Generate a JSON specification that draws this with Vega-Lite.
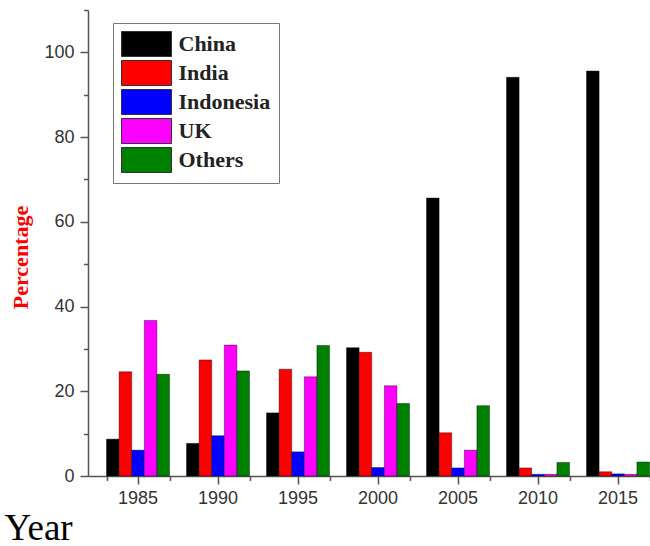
{
  "$schema": "https://vega.github.io/schema/vega-lite/v6.json",
  "width": 562,
  "height": 466,
  "autosize": {"type": "none"},
  "padding": {"left": 88, "top": 10, "right": 0, "bottom": 70},
  "background": "white",
  "config": {
    "view": {"stroke": null},
    "axis": {"grid": false, "domainColor": "#555", "domainWidth": 1.5, "tickColor": "#555", "tickWidth": 1.5, "labelFont": "Liberation Sans", "labelFontSize": 18, "labelColor": "#333"}
  },
  "data": {"values": [
    {"year": 1985, "country": "China", "value": 8.7},
    {"year": 1985, "country": "India", "value": 24.6},
    {"year": 1985, "country": "Indonesia", "value": 6.1},
    {"year": 1985, "country": "UK", "value": 36.7},
    {"year": 1985, "country": "Others", "value": 24.0},
    {"year": 1990, "country": "China", "value": 7.7},
    {"year": 1990, "country": "India", "value": 27.4},
    {"year": 1990, "country": "Indonesia", "value": 9.5},
    {"year": 1990, "country": "UK", "value": 30.9},
    {"year": 1990, "country": "Others", "value": 24.8},
    {"year": 1995, "country": "China", "value": 14.9},
    {"year": 1995, "country": "India", "value": 25.2},
    {"year": 1995, "country": "Indonesia", "value": 5.7},
    {"year": 1995, "country": "UK", "value": 23.4},
    {"year": 1995, "country": "Others", "value": 30.8},
    {"year": 2000, "country": "China", "value": 30.3},
    {"year": 2000, "country": "India", "value": 29.2},
    {"year": 2000, "country": "Indonesia", "value": 2.0},
    {"year": 2000, "country": "UK", "value": 21.3},
    {"year": 2000, "country": "Others", "value": 17.1},
    {"year": 2005, "country": "China", "value": 65.6},
    {"year": 2005, "country": "India", "value": 10.2},
    {"year": 2005, "country": "Indonesia", "value": 1.9},
    {"year": 2005, "country": "UK", "value": 6.1},
    {"year": 2005, "country": "Others", "value": 16.6},
    {"year": 2010, "country": "China", "value": 94.1},
    {"year": 2010, "country": "India", "value": 1.9},
    {"year": 2010, "country": "Indonesia", "value": 0.4},
    {"year": 2010, "country": "UK", "value": 0.4},
    {"year": 2010, "country": "Others", "value": 3.2},
    {"year": 2015, "country": "China", "value": 95.6},
    {"year": 2015, "country": "India", "value": 1.0},
    {"year": 2015, "country": "Indonesia", "value": 0.5},
    {"year": 2015, "country": "UK", "value": 0.4},
    {"year": 2015, "country": "Others", "value": 3.3}
  ]},
  "layer": [
    {
      "mark": {"type": "bar", "stroke": "#000", "strokeWidth": 0.8, "strokeOpacity": 0.5},
      "encoding": {
        "x": {
          "field": "year", "type": "ordinal",
          "scale": {"paddingInner": 0.2125, "paddingOuter": 0.11875, "align": 0.974},
          "axis": {
            "title": "Year", "labelAngle": 0, "tickSize": 8, "labelPadding": 5, "bandPosition": 0.5,
            "titleFont": "Liberation Serif", "titleFontSize": 37, "titleFontWeight": "normal", "titleColor": "#000",
            "titleAnchor": "start", "titleAlign": "left", "titleBaseline": "alphabetic", "titleX": -84, "titleY": 63
          }
        },
        "xOffset": {
          "field": "country", "type": "nominal",
          "sort": ["China", "India", "Indonesia", "UK", "Others"],
          "scale": {"paddingInner": 0, "paddingOuter": 0}
        },
        "y": {
          "field": "value", "type": "quantitative",
          "scale": {"domain": [0, 110], "nice": false},
          "axis": {
            "title": "Percentage",
            "values": [0, 10, 20, 30, 40, 50, 60, 70, 80, 90, 100, 110],
            "labelExpr": "(datum.value % 20 == 0 && datum.value <= 100) ? datum.label : ''",
            "tickSize": {"condition": {"test": "datum.value % 20 == 0 && datum.value <= 100", "value": 8}, "value": 4.5},
            "labelPadding": 6,
            "titleFont": "Liberation Serif", "titleFontSize": 22, "titleFontWeight": "bold", "titleColor": "#ff0000",
            "titleAngle": -90, "titleAlign": "center", "titleBaseline": "middle", "titleX": -68, "titleY": 247
          }
        },
        "color": {
          "field": "country", "type": "nominal",
          "sort": ["China", "India", "Indonesia", "UK", "Others"],
          "scale": {"domain": ["China", "India", "Indonesia", "UK", "Others"], "range": ["#000000", "#ff0000", "#0000ff", "#ff00ff", "#008000"]},
          "legend": {
            "title": null, "orient": "none", "legendX": 25, "legendY": 13,
            "padding": 8, "strokeColor": "#777",
            "symbolType": "M-2,-1H2V1H-2Z", "symbolSize": 625, "symbolOffset": 12.5,
            "symbolStrokeColor": "#333", "symbolStrokeWidth": 1, "symbolOpacity": 1,
            "labelFont": "Liberation Serif", "labelFontSize": 22, "labelFontWeight": "bold", "labelColor": "#222",
            "labelOffset": 19, "rowPadding": -1
          }
        }
      }
    },
    {
      "mark": {"type": "bar", "opacity": 0},
      "encoding": {
        "x": {
          "field": "year", "type": "ordinal",
          "axis": {"orient": "bottom", "title": null, "labels": false, "domain": false, "tickBand": "extent", "tickSize": 4.5}
        },
        "y": {"field": "value", "type": "quantitative"}
      }
    }
  ],
  "resolve": {"axis": {"x": "independent"}}
}
